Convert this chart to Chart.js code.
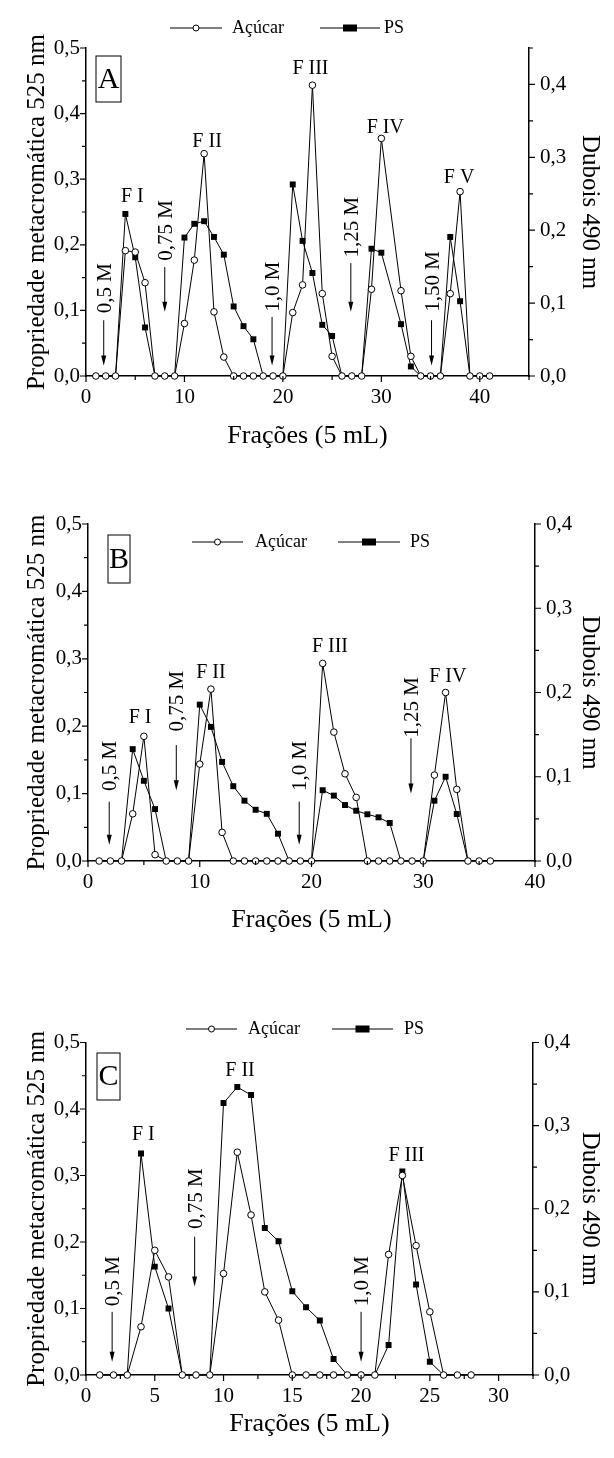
<!DOCTYPE html>
<html>
<head>
<meta charset="utf-8">
<script src="https://cdn.jsdelivr.net/npm/chart.js@4.4.1/dist/chart.umd.min.js"></script>
<style>
  html, body { margin: 0; padding: 0; background: #fff; }
  .panel { position: absolute; left: 0; width: 614px; height: 486px; }
</style>
</head>
<body>
<div class="panel" style="top:0"><canvas id="chartA"></canvas></div>
<div class="panel" style="top:486px"><canvas id="chartB"></canvas></div>
<div class="panel" style="top:972px"><canvas id="chartC"></canvas></div>
<script>
// Panel A
const fractionsA = [1,2,3,4,5,6,7,8,9,10,11,12,13,14,15,16,17,18,19,20,21,22,23,24,25,26,27,28,29,30,32,33,34,35,36,37,38,39,40,41];
const sugarA = [0,0,0,0.172,0.170,0.128,0,0,0,0.072,0.159,0.305,0.088,0.026,0,0,0,0,0,0,0.087,0.125,0.399,0.113,0.027,0,0,0,0.119,0.326,0.117,0.027,0,0,0,0.113,0.253,0,0,0];
const psA = [0,0,0,0.247,0.181,0.074,0,0,0,0.211,0.232,0.236,0.212,0.185,0.106,0.076,0.056,0,0,0,0.292,0.206,0.157,0.078,0.061,0,0,0,0.194,0.188,0.079,0.0145,0,0,0,0.212,0.114,0,0,0];

// Panel B
const fractionsB = [1,2,3,4,5,6,7,8,9,10,11,12,13,14,15,16,17,18,19,20,21,22,23,24,25,26,27,28,29,30,31,32,33,34,35,36];
const sugarB = [0,0,0,0.056,0.148,0.0075,0,0,0,0.115,0.204,0.034,0,0,0,0,0,0,0,0,0.2345,0.153,0.1035,0.0755,0,0,0,0,0,0,0.102,0.200,0.085,0,0,0];
const psB = [0,0,0,0.166,0.119,0.077,0,0,0,0.232,0.199,0.147,0.111,0.0895,0.076,0.070,0.0405,0,0,0,0.105,0.097,0.083,0.0746,0.0693,0.0648,0.0564,0,0,0,0.0895,0.125,0.0697,0,0,0];

// Panel C
const fractionsC = [1,2,3,4,5,6,7,8,9,10,11,12,13,14,15,16,17,18,19,20,21,22,23,24,25,26,27,28];
const sugarC = [0,0,0,0.058,0.150,0.118,0,0,0,0.122,0.268,0.1925,0.100,0.066,0,0,0,0,0,0,0,0.145,0.240,0.1556,0.076,0,0,0];
const psC = [0,0,0,0.333,0.163,0.100,0,0,0,0.409,0.433,0.421,0.221,0.201,0.126,0.102,0.082,0.024,0,0,0,0.045,0.306,0.136,0.020,0,0,0];

// peak names and salt steps (x in fractions, y in left-axis units)
const peaksA = [['F I',4.7,0.273],['F II',12.3,0.357],['F III',22.8,0.468],['F IV',30.4,0.379],['F V',37.9,0.302]];
const peaksB = [['F I',4.66,0.212],['F II',11.0,0.28],['F III',21.65,0.318],['F IV',32.2,0.273]];
const peaksC = [['F I',4.17,0.361],['F II',11.2,0.457],['F III',23.3,0.329]];
const stepsA = [['0,5 M',1.8,0.085,0.016,0.134],['0,75 M',8,0.166,0.098,0.222],['1,0 M',18.9,0.09,0.016,0.136],['1,25 M',26.9,0.172,0.098,0.227],['1,50 M',35.1,0.085,0.016,0.144]];
const stepsB = [['0,5 M',1.9,0.088,0.024,0.141],['0,75 M',7.9,0.172,0.105,0.237],['1,0 M',18.9,0.088,0.024,0.141],['1,25 M',28.9,0.182,0.1,0.228]];
const stepsC = [['0,5 M',1.9,0.095,0.02,0.141],['0,75 M',7.9,0.208,0.133,0.265],['1,0 M',20,0.095,0.02,0.141]];

const FONT = '"Liberation Serif", "Times New Roman", serif';

function pts(fr, vals) {
  return fr.map((f, i) => ({ x: f, y: vals[i] }));
}

function comma(v, dec) {
  return v.toFixed(dec).replace('.', ',');
}

const decoPlugin = {
  id: 'deco',
  afterDraw(chart, args, o) {
    const ctx = chart.ctx;
    const area = chart.chartArea;
    const xs = chart.scales.x, yl = chart.scales.y, yr = chart.scales.y1;
    ctx.save();
    ctx.strokeStyle = '#000';
    ctx.fillStyle = '#000';
    ctx.lineWidth = 1.2;

    // outward tick marks, short ones for the unlabeled ticks
    ctx.beginPath();
    xs.ticks.forEach(t => {
      const p = xs.getPixelForValue(t.value);
      const len = t.label === '' ? 4 : 6;
      ctx.moveTo(p, area.bottom); ctx.lineTo(p, area.bottom + len);
    });
    yl.ticks.forEach(t => {
      const p = yl.getPixelForValue(t.value);
      const len = t.label === '' ? 4 : 6;
      ctx.moveTo(area.left, p); ctx.lineTo(area.left - len, p);
    });
    yr.ticks.forEach(t => {
      const p = yr.getPixelForValue(t.value);
      const len = t.label === '' ? 4 : 6;
      ctx.moveTo(area.right, p); ctx.lineTo(area.right + len, p);
    });
    ctx.stroke();

    ctx.font = '20px ' + FONT;
    ctx.textAlign = 'center';
    ctx.textBaseline = 'middle';
    o.peaks.forEach(p => {
      ctx.fillText(p[0], xs.getPixelForValue(p[1]), yl.getPixelForValue(p[2]));
    });

    ctx.lineWidth = 1;
    ctx.font = '21px ' + FONT;
    o.steps.forEach(s => {
      const px = xs.getPixelForValue(s[1]);
      const y0 = yl.getPixelForValue(s[2]);
      const y1 = yl.getPixelForValue(s[3]);
      ctx.beginPath();
      ctx.moveTo(px, y0); ctx.lineTo(px, y1 - 8);
      ctx.stroke();
      ctx.beginPath();
      ctx.moveTo(px - 2.5, y1 - 10); ctx.lineTo(px + 2.5, y1 - 10); ctx.lineTo(px, y1);
      ctx.closePath(); ctx.fill();
      ctx.save();
      ctx.translate(px + 1.5, yl.getPixelForValue(s[4]));
      ctx.rotate(-Math.PI / 2);
      ctx.fillText(s[0], 0, 0);
      ctx.restore();
    });

    // legend
    const L = o.legend;
    ctx.font = '18px ' + FONT;
    ctx.textAlign = 'left';
    ctx.lineWidth = 1.2;
    ctx.beginPath();
    ctx.moveTo(L.sugar[0], L.y); ctx.lineTo(L.sugar[1], L.y);
    ctx.moveTo(L.ps[0], L.y); ctx.lineTo(L.ps[1], L.y);
    ctx.stroke();
    const cx = (L.sugar[0] + L.sugar[1]) / 2;
    ctx.beginPath();
    ctx.arc(cx, L.y, 3, 0, Math.PI * 2);
    ctx.fillStyle = '#fff'; ctx.fill();
    ctx.lineWidth = 1; ctx.stroke();
    ctx.fillStyle = '#000';
    const bx = (L.ps[0] + L.ps[1]) / 2;
    ctx.fillRect(bx - 7, L.y - 3.5, 14, 7);
    ctx.fillText('Açúcar', L.sugar[2], L.y);
    ctx.fillText('PS', L.ps[2], L.y);

    // panel letter
    const B = o.box;
    ctx.lineWidth = 1;
    ctx.strokeRect(B[0], B[1], B[2], B[3]);
    ctx.font = '30px ' + FONT;
    ctx.textAlign = 'center';
    ctx.fillText(o.letter, B[0] + B[2] / 2, B[1] + B[3] / 2 + 1);
    ctx.restore();
  }
};

function makeChart(id, p) {
  const H = 486, W = 614;
  const tickFont = { family: FONT, size: 21 };
  const yTitleFont = { family: FONT, size: 25 };
  const xTitleFont = { family: FONT, size: 26 };
  return new Chart(document.getElementById(id), {
    type: 'line',
    data: {
      datasets: [{
        label: 'Açúcar',
        data: pts(p.fractions, p.sugar),
        yAxisID: 'y1',
        borderColor: '#000',
        borderWidth: 1,
        pointStyle: 'circle',
        pointRadius: 3.3,
        pointBackgroundColor: '#fff',
        pointBorderColor: '#000',
        pointBorderWidth: 1,
        tension: 0,
        clip: 12
      }, {
        label: 'PS',
        data: pts(p.fractions, p.ps),
        yAxisID: 'y',
        borderColor: '#000',
        borderWidth: 1,
        pointStyle: 'rect',
        pointRadius: ctx => (ctx.raw && ctx.raw.y === 0 ? 0 : 4.2),
        pointBackgroundColor: '#000',
        pointBorderColor: '#000',
        pointBorderWidth: 0,
        tension: 0,
        clip: 12
      }]
    },
    options: {
      responsive: true,
      maintainAspectRatio: false,
      animation: false,
      events: [],
      layout: { padding: { top: p.area.top, left: 0, right: 0, bottom: 0 } },
      scales: {
        x: {
          type: 'linear',
          min: 0,
          max: p.xMax,
          afterFit: s => { s.height = H - p.area.bottom; },
          ticks: {
            stepSize: p.xStep,
            autoSkip: false,
            maxRotation: 0,
            padding: 9,
            color: '#000',
            font: tickFont,
            callback: v => (Math.abs(v / p.xMajor - Math.round(v / p.xMajor)) < 1e-6 ? String(v) : '')
          },
          grid: { drawOnChartArea: false, drawTicks: false },
          border: { display: true, color: '#000', width: 1.5 },
          title: { display: true, text: 'Frações (5 mL)', color: '#000', font: xTitleFont, padding: { top: 0, bottom: p.xTitlePad } }
        },
        y: {
          position: 'left',
          min: 0,
          max: 0.5,
          afterFit: s => { s.width = p.area.left; },
          ticks: {
            stepSize: 0.05,
            autoSkip: false,
            padding: 6,
            color: '#000',
            font: tickFont,
            callback: v => (Math.round(v * 100) % 10 === 0 ? comma(v, 1) : '')
          },
          grid: { drawOnChartArea: false, drawTicks: false },
          border: { display: true, color: '#000', width: 1.5 },
          title: { display: true, text: 'Propriedade metacromática 525 nm', color: '#000', font: yTitleFont, padding: { top: 22, bottom: 0 } }
        },
        y1: {
          position: 'right',
          min: 0,
          max: p.rightMax,
          afterFit: s => { s.width = W - p.area.right; },
          ticks: {
            stepSize: 0.05,
            autoSkip: false,
            padding: 11,
            color: '#000',
            font: tickFont,
            callback: v => (Math.round(v * 100) % 10 === 0 ? comma(v, 1) : '')
          },
          grid: { drawOnChartArea: false, drawTicks: false },
          border: { display: true, color: '#000', width: 1.5 },
          title: { display: true, text: 'Dubois 490 nm', color: '#000', font: yTitleFont, padding: { top: 9, bottom: 0 } }
        }
      },
      plugins: {
        legend: { display: false },
        tooltip: { enabled: false },
        deco: {
          peaks: p.peaks,
          steps: p.steps,
          legend: p.legend,
          box: p.box,
          letter: p.letter
        }
      }
    },
    plugins: [decoPlugin]
  });
}

makeChart('chartA', {
  fractions: fractionsA, sugar: sugarA, ps: psA,
  peaks: peaksA, steps: stepsA,
  xMax: 45, xStep: 5, xMajor: 10, rightMax: 0.45,
  area: { left: 86, right: 529, top: 48, bottom: 376 },
  xTitlePad: 34,
  legend: { y: 28, sugar: [170, 222, 232], ps: [320, 380, 384] },
  box: [96, 56, 25, 46], letter: 'A'
});

makeChart('chartB', {
  fractions: fractionsB, sugar: sugarB, ps: psB,
  peaks: peaksB, steps: stepsB,
  xMax: 40, xStep: 5, xMajor: 10, rightMax: 0.4,
  area: { left: 88, right: 535, top: 38, bottom: 375 },
  xTitlePad: 36,
  legend: { y: 56, sugar: [192, 243, 255], ps: [338, 400, 410] },
  box: [108, 49, 22, 48], letter: 'B'
});

makeChart('chartC', {
  fractions: fractionsC, sugar: sugarC, ps: psC,
  peaks: peaksC, steps: stepsC,
  xMax: 32.5, xStep: 2.5, xMajor: 5, rightMax: 0.4,
  area: { left: 86, right: 533, top: 70.5, bottom: 403 },
  xTitlePad: 18,
  legend: { y: 57, sugar: [186, 237, 248], ps: [332, 393, 404] },
  box: [97, 81, 23, 47], letter: 'C'
});
</script>
</body>
</html>
